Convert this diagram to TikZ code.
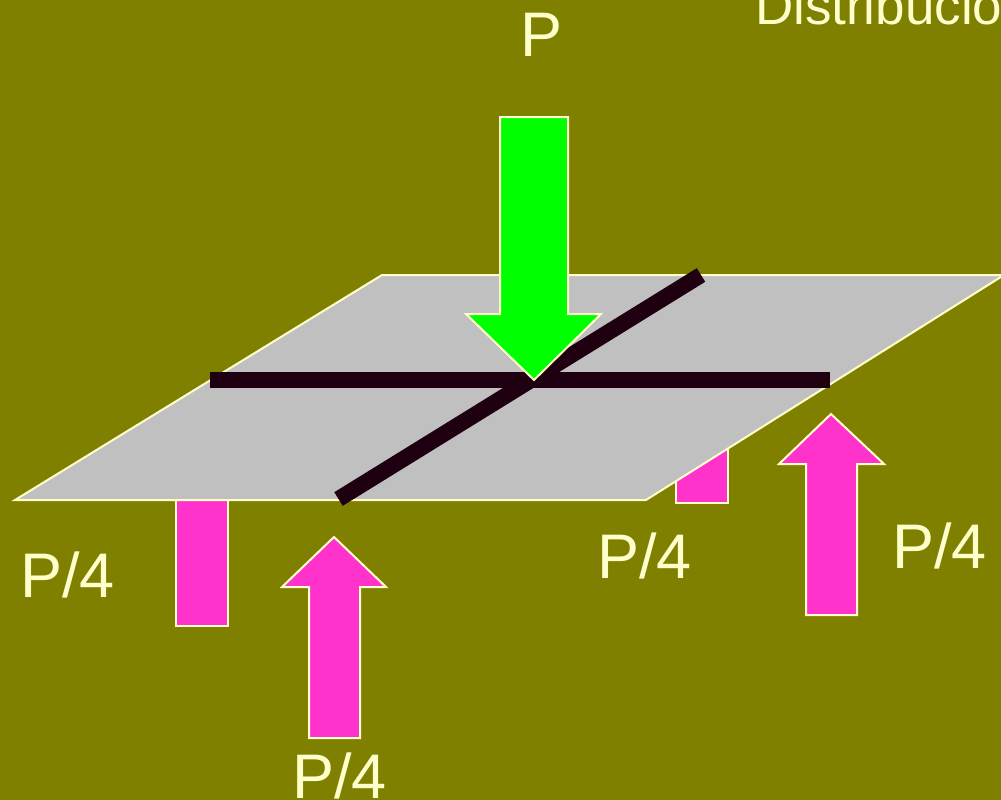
\documentclass[tikz,border=0pt]{standalone}
\usepackage{fontspec}
\setmainfont{Liberation Sans}
\definecolor{olivebg}{HTML}{808000}
\definecolor{cream}{HTML}{FFFFCC}
\definecolor{pinkfill}{HTML}{FF33CC}
\definecolor{greenfill}{HTML}{00FF00}
\definecolor{plategray}{HTML}{C0C0C0}
\definecolor{beamcol}{HTML}{1F0010}
\tikzset{
  outlined/.style={draw=cream,line width=2pt,line join=miter,miter limit=10},
  pinkshape/.style={outlined,fill=pinkfill},
  greenshape/.style={outlined,fill=greenfill},
  plate/.style={outlined,fill=plategray},
  beam/.style={draw=beamcol,line width=16pt},
  lab/.style={text=cream,font=\fontsize{63}{63}\selectfont,anchor=base west,inner sep=0pt,outer sep=0pt},
  titlelab/.style={text=cream,font=\fontsize{53}{53}\selectfont,anchor=base west,inner sep=0pt,outer sep=0pt}
}
\begin{document}
\begin{tikzpicture}[x=1pt,y=-1pt]
\useasboundingbox (0,0) rectangle (1001,800);
\clip (0,0) rectangle (1001,800);
\fill[olivebg] (0,0) rectangle (1001,800);
% pink blocks behind the plate
\draw[pinkshape] (176,480) rectangle (228,626);
\draw[pinkshape] (676,440) rectangle (728,503);
% plate
\draw[plate] (382,275) -- (1004,275) -- (646,500) -- (15,500) -- cycle;
% beams
\coordinate (hl) at (210,380);
\coordinate (hr) at (830,380);
\coordinate (dl) at (338.5,499);
\coordinate (dr) at (701,275);
\draw[beam] (hl) -- (hr);
\draw[beam] (dl) -- (dr);
% arrows
\draw[greenshape] (500,117) -- (568,117) -- (568,314) -- (601,314) -- (534,380) -- (466,314) -- (500,314) -- cycle;
\draw[pinkshape] (831,414) -- (884,464) -- (857,464) -- (857,615) -- (806,615) -- (806,464) -- (779,464) -- cycle;
\draw[pinkshape] (334,537) -- (386,587) -- (360,587) -- (360,738) -- (309,738) -- (309,587) -- (282,587) -- cycle;
% labels
\node[lab] (p) at (520,57) {P};
\node[titlelab] (title) at (755,25) {Distribucio};
\node[lab] (a) at (20,597) {P/4};
\node[lab] (b) at (597,578) {P/4};
\node[lab] (c) at (892,568) {P/4};
\node[lab] (d) at (292,798) {P/4};
\end{tikzpicture}
\end{document}
